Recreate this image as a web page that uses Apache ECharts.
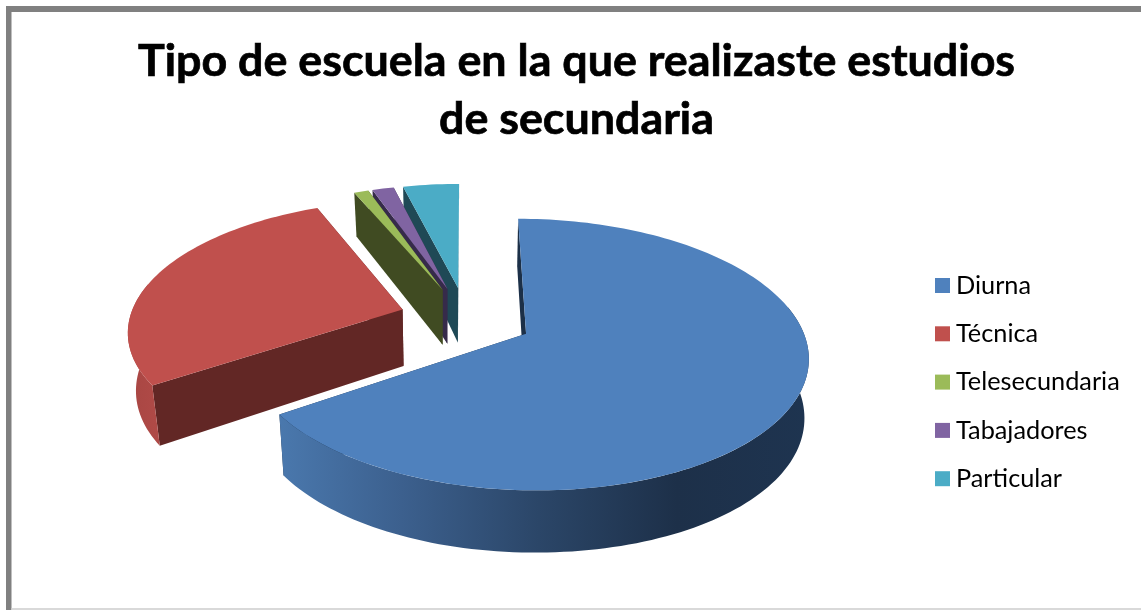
<!DOCTYPE html>
<html>
<head>
<meta charset="utf-8">
<style>html,body{margin:0;padding:0;background:#fff}#c{width:1141px;height:610px}</style>
<script src="https://cdn.jsdelivr.net/npm/echarts@6/dist/echarts.min.js"></script>
</head>
<body>
<div id="c"></div>
<script>
const categories = ['Diurna', 'Técnica', 'Telesecundaria', 'Tabajadores', 'Particular'];
const shares = [65.6, 28.0, 1.0, 1.5, 3.9];
const topColors = ['#4f81bd', '#c0504d', '#9bbb59', '#8064a2', '#4bacc6'];
const wallColors = ['#1c3048', '#622725', '#404b22', '#362b4a', '#1f4956'];
const titleText = 'Tipo de escuela en la que realizaste estudios\nde secundaria';

// projection of the tilted, exploded disc
const CX = 466, CY = 318.5, RX = 273, RY = 128, K = 0.15, EXPLODE_X = 0.245, EXPLODE_Y = 0.25;
const VX = 440, SHIFT_L = 0.026, SHIFT_R = 0.012;
const total = shares.reduce((a, b) => a + b, 0);
const rad = d => d * Math.PI / 180;

function proj(X, Y, Z) {
  const w = 1 / (1 - K * Y);
  let x = CX + RX * X * w;
  const y = CY + RY * Y * w + Z * (57 + 8 * Y - 3 * Y * Y);
  x += (VX - x) * (x < VX ? SHIFT_L : SHIFT_R) * Z;
  return [x, y];
}

function arc(ox, oy, a0, a1, Z) {
  const n = Math.max(2, Math.ceil(Math.abs(a1 - a0) / 1.5));
  const pts = [];
  for (let i = 0; i <= n; i++) {
    const a = rad(a0 + (a1 - a0) * i / n);
    pts.push(proj(ox + Math.sin(a), oy - Math.cos(a), Z));
  }
  return pts;
}

function wedgeItem(index, value) {
  let start = 0;
  for (let i = 0; i < index; i++) start += shares[i] / total * 360;
  const end = start + value / total * 360;
  const mid = rad((start + end) / 2);
  const ox = EXPLODE_X * Math.sin(mid), oy = -EXPLODE_Y * Math.cos(mid);
  const edge = a => proj(ox + Math.sin(rad(a)), oy - Math.cos(rad(a)), 0);
  const edgeB = a => proj(ox + Math.sin(rad(a)), oy - Math.cos(rad(a)), 1);
  const apex = proj(ox, oy, 0), apexB = proj(ox, oy, 1);
  const children = [];
  const poly = (points, fill) => children.push({
    type: 'polygon', shape: { points }, style: { fill, stroke: null }, silent: true
  });
  const wall = wallColors[index];
  poly([apex, edge(end), edgeB(end), apexB], wall);
  poly([apex, edge(start), edgeB(start), apexB], wall);
  const a0 = Math.max(start, 90), a1 = Math.min(end, 270);
  if (a1 > a0) {
    // the top rim runs past the side tangents so the wall reaches the silhouette
    const up = arc(ox, oy, a0 === 90 ? 78 : a0, a1 === 270 ? Math.min(end, 282) : a1, 0);
    const down = arc(ox, oy, a0, a1, 1).reverse();
    const stops = index === 0
      ? [[0, '#1e3450'], [0.25, '#1d3049'], [0.51, '#2b4668'], [0.77, '#3c608e'], [1, '#4a78ad']]
      : [[0, '#b04a47'], [1, '#a84643']];
    const fill = new echarts.graphic.LinearGradient(1, 0, 0, 0,
      stops.map(s => ({ offset: s[0], color: s[1] })));
    poly(up.concat(down), fill);
  }
  poly([apex].concat(arc(ox, oy, start, end, 0)), topColors[index]);
  return { type: 'group', children };
}

const chart = echarts.init(document.getElementById('c'), null, { renderer: 'canvas' });
chart.setOption({
  animation: false,
  backgroundColor: '#fff',
  color: topColors,
  title: {
    text: titleText,
    left: 571.5, top: 28, textAlign: 'center',
    textStyle: { fontFamily: 'Lato', fontWeight: 'bold', fontSize: 44.8, lineHeight: 58, color: '#000',
      textBorderColor: '#000', textBorderWidth: 0.7 }
  },
  legend: {
    orient: 'vertical', left: 930, top: 268,
    data: categories, icon: 'rect', itemWidth: 15, itemHeight: 15, itemGap: 23.3,
    selectedMode: false,
    textStyle: { fontFamily: 'Lato', fontSize: 25.3, lineHeight: 25, color: '#000', padding: [0, 0, 0, 1] }
  },
  graphic: [
    { type: 'rect', shape: { x: 6, y: 6, width: 1135, height: 6 }, style: { fill: '#808080' }, silent: true },
    { type: 'rect', shape: { x: 6, y: 6, width: 5.5, height: 604 }, style: { fill: '#808080' }, silent: true },
    { type: 'rect', shape: { x: 11.5, y: 608, width: 1130, height: 2 }, style: { fill: '#d9d9d9' }, silent: true }
  ],
  series: categories.map((name, i) => ({
    type: 'custom',
    name,
    coordinateSystem: 'none',
    z: 10 - i,
    data: [shares[i]],
    itemStyle: { color: topColors[i] },
    renderItem: (params, api) => wedgeItem(i, api.value(0))
  }))
});
</script>
</body>
</html>
